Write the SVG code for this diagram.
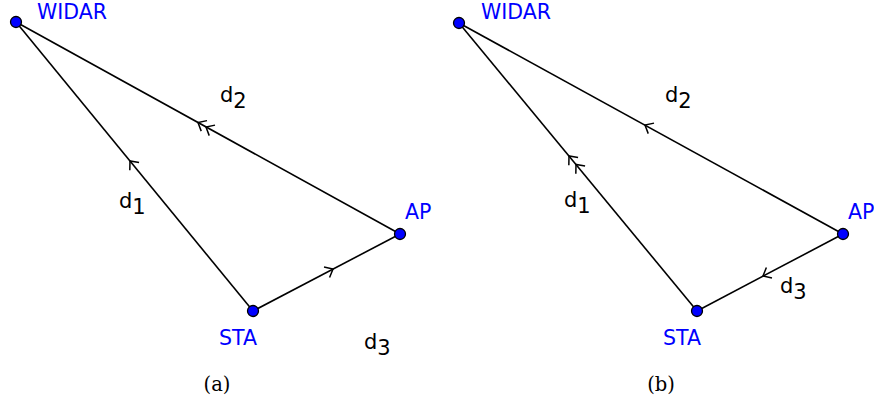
<svg xmlns="http://www.w3.org/2000/svg" width="874" height="403" viewBox="0 0 874 403">
<style>
.edge{stroke:#000;stroke-width:1.6;fill:none}
.chev{stroke:#000;stroke-width:1.5;fill:none}
.node{fill:#0000ff;stroke:#000;stroke-width:1.3}
.lab{font-family:"DejaVu Sans",sans-serif;font-size:20.5px;fill:#0000ff}
.d{font-family:"DejaVu Sans",sans-serif;font-size:21px;fill:#000}
.cap{font-family:"DejaVu Serif","Liberation Serif",serif;font-size:19.5px;fill:#000}
</style>
<defs>
<path id="chev" class="chev" d="M-7,-6 L0,0 L-7,6"/>
</defs>
<g id="connectors">
<line class="edge" x1="16" y1="22" x2="400" y2="234"/>
<line class="edge" x1="16" y1="22" x2="253" y2="311"/>
<line class="edge" x1="253" y1="311" x2="400" y2="234"/>
<use href="#chev" transform="translate(198,122.5) rotate(208.9)"/>
<use href="#chev" transform="translate(206,127) rotate(208.9)"/>
<use href="#chev" transform="translate(130,161) rotate(230.6)"/>
<use href="#chev" transform="translate(333,269) rotate(-27.6)"/>
<line class="edge" x1="459" y1="23" x2="843" y2="234"/>
<line class="edge" x1="459" y1="23" x2="697" y2="311"/>
<line class="edge" x1="697" y1="311" x2="843" y2="234"/>
<use href="#chev" transform="translate(645,125) rotate(208.8)"/>
<use href="#chev" transform="translate(569,156) rotate(230.4)"/>
<use href="#chev" transform="translate(576,164.5) rotate(230.4)"/>
<use href="#chev" transform="translate(763,276) rotate(152.2)"/>
</g>
<g id="widar-a"><circle class="node" cx="16" cy="22" r="5.5"/><text class="lab" x="37" y="19">WIDAR</text></g>
<g id="ap-a"><circle class="node" cx="400" cy="234" r="5.5"/><text class="lab" x="405" y="219">AP</text></g>
<g id="sta-a"><circle class="node" cx="253" cy="311" r="5.5"/><text class="lab" x="219" y="345">STA</text></g>
<g id="labels-a">
<text class="d" x="220" y="102">d<tspan dx="0" dy="6">2</tspan></text>
<text class="d" x="119" y="208">d<tspan dx="0" dy="6">1</tspan></text>
<text class="d" x="364" y="349">d<tspan dx="0" dy="6">3</tspan></text>
<text class="cap" x="217" y="391" text-anchor="middle">(a)</text>
</g>
<g id="widar-b"><circle class="node" cx="459" cy="23" r="5.5"/><text class="lab" x="481" y="19">WIDAR</text></g>
<g id="ap-b"><circle class="node" cx="843" cy="234" r="5.5"/><text class="lab" x="848" y="219">AP</text></g>
<g id="sta-b"><circle class="node" cx="697" cy="311" r="5.5"/><text class="lab" x="663" y="345">STA</text></g>
<g id="labels-b">
<text class="d" x="665" y="102">d<tspan dx="0" dy="6">2</tspan></text>
<text class="d" x="564" y="207">d<tspan dx="0" dy="6">1</tspan></text>
<text class="d" x="780" y="293">d<tspan dx="0" dy="6">3</tspan></text>
<text class="cap" x="661" y="391" text-anchor="middle">(b)</text>
</g>
</svg>
